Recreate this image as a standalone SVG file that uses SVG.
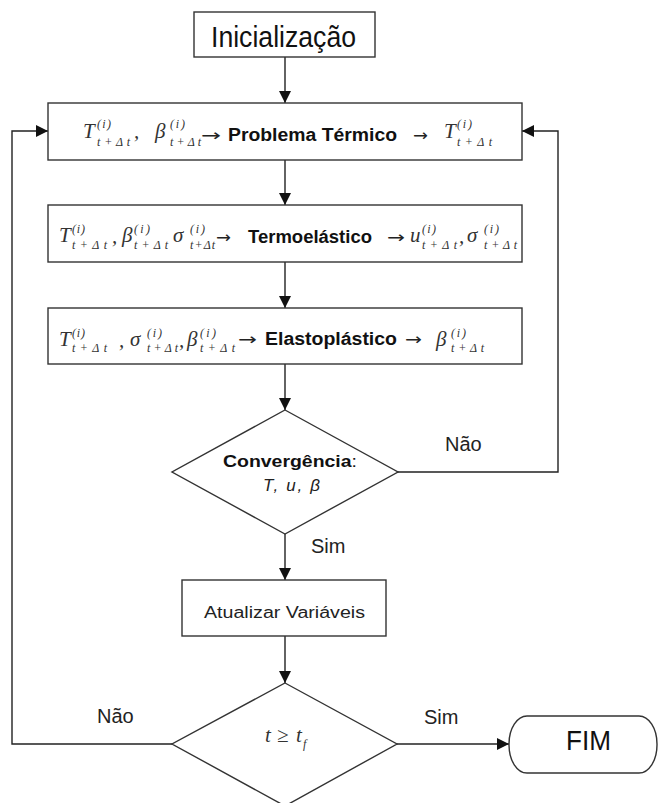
<svg xmlns="http://www.w3.org/2000/svg" width="659" height="803" viewBox="0 0 659 803">
<style>
.box{fill:#fff;stroke:#333;stroke-width:1.4}
.ln{fill:none;stroke:#222;stroke-width:1.4}
.mv{font-family:"Liberation Serif",serif;font-style:italic;font-size:21px;fill:#333}
.sp{font-family:"Liberation Serif",serif;font-style:italic;font-size:12px;fill:#333}
.sb{font-family:"Liberation Serif",serif;font-style:italic;font-size:12px;fill:#333}
.ar{font-family:"DejaVu Sans",sans-serif;font-size:16px;fill:#222}
.b{font-family:"Liberation Sans",Arial,sans-serif;font-weight:bold;font-size:18px;fill:#111}
.r{font-family:"Liberation Sans",Arial,sans-serif;font-size:20px;fill:#222}
.s{font-family:"Liberation Sans",Arial,sans-serif;font-size:16px;fill:#222}
</style>
<defs>
<marker id="ah" markerUnits="userSpaceOnUse" markerWidth="12" markerHeight="12" viewBox="0 0 10 10" refX="10" refY="5" orient="auto">
<path d="M0,0 L10,5 L0,10 z" fill="#111"/>
</marker>
</defs>
<rect width="659" height="803" fill="#fff"/>

<g id="connectors">
<line class="ln" x1="285" y1="57" x2="285" y2="103" marker-end="url(#ah)"/>
<line class="ln" x1="285" y1="160" x2="285" y2="205" marker-end="url(#ah)"/>
<line class="ln" x1="285" y1="262" x2="285" y2="308" marker-end="url(#ah)"/>
<line class="ln" x1="285" y1="364" x2="285" y2="410" marker-end="url(#ah)"/>
<line class="ln" x1="285" y1="534" x2="285" y2="580" marker-end="url(#ah)"/>
<line class="ln" x1="285" y1="636" x2="285" y2="683" marker-end="url(#ah)"/>
<line class="ln" x1="397" y1="744" x2="509" y2="744" marker-end="url(#ah)"/>
<polyline class="ln" points="396,472 558,472 558,131 522,131" marker-end="url(#ah)"/>
<polyline class="ln" points="172,744 12,744 12,131 48,131" marker-end="url(#ah)"/>
<text class="r" x="445" y="451">Não</text>
<text class="r" x="311" y="553">Sim</text>
<text class="r" x="97" y="723">Não</text>
<text class="r" x="424" y="724">Sim</text>
</g>

<g id="inicializacao">
<rect class="box" x="194" y="12" width="181" height="45"/>
<text x="211" y="47" font-family="Liberation Sans, Arial, sans-serif" font-size="29" fill="#111" textLength="145" lengthAdjust="spacingAndGlyphs">Inicialização</text>
</g>

<g id="termico">
<rect class="box" x="48" y="103" width="474" height="57"/>
<text class="mv" x="83" y="138">T</text>
<text class="sp" x="97" y="128" textLength="14">(i)</text>
<text class="sb" x="97" y="146" textLength="33">t + Δ t</text>
<text class="mv" x="134" y="138">,</text>
<text class="mv" x="155" y="138">β</text>
<text class="sp" x="170" y="128" textLength="15">(i)</text>
<text class="sb" x="170" y="146" textLength="31">t + Δ t</text>
<text class="ar" x="201" y="141" textLength="20" lengthAdjust="spacingAndGlyphs">→</text>
<text class="b" x="228" y="141" textLength="169" lengthAdjust="spacingAndGlyphs">Problema Térmico</text>
<text class="ar" x="413" y="141" textLength="15" lengthAdjust="spacingAndGlyphs">→</text>
<text class="mv" x="444" y="138">T</text>
<text class="sp" x="457" y="128" textLength="15">(i)</text>
<text class="sb" x="457" y="146" textLength="35">t + Δ t</text>
</g>

<g id="termoelastico">
<rect class="box" x="48" y="205" width="474" height="57"/>
<text class="mv" x="59" y="242">T</text>
<text class="sp" x="72" y="233" textLength="13">(i)</text>
<text class="sb" x="72" y="249" textLength="35">t + Δ t</text>
<text class="mv" x="112" y="243">,</text>
<text class="mv" x="122" y="242">β</text>
<text class="sp" x="134" y="233" textLength="16">(i)</text>
<text class="sb" x="134" y="249" textLength="34">t + Δ t</text>
<text class="mv" x="173" y="242">σ</text>
<text class="sp" x="190" y="233" textLength="15">(i)</text>
<text class="sb" x="190" y="249" textLength="25">t + Δ t</text>
<text class="ar" x="216" y="243" textLength="15" lengthAdjust="spacingAndGlyphs">→</text>
<text class="b" x="248" y="243" textLength="124" lengthAdjust="spacingAndGlyphs">Termoelástico</text>
<text class="ar" x="387" y="243" textLength="18" lengthAdjust="spacingAndGlyphs">→</text>
<text class="mv" x="410" y="242">u</text>
<text class="sp" x="422" y="233" textLength="14">(i)</text>
<text class="sb" x="422" y="249" textLength="35">t + Δ t</text>
<text class="mv" x="459" y="243">,</text>
<text class="mv" x="467" y="242">σ</text>
<text class="sp" x="484" y="233" textLength="15">(i)</text>
<text class="sb" x="484" y="249" textLength="33">t + Δ t</text>
</g>

<g id="elastoplastico">
<rect class="box" x="48" y="308" width="474" height="56"/>
<text class="mv" x="59" y="346">T</text>
<text class="sp" x="72" y="337" textLength="13">(i)</text>
<text class="sb" x="72" y="352" textLength="35">t + Δ t</text>
<text class="mv" x="119" y="347">,</text>
<text class="mv" x="130" y="346">σ</text>
<text class="sp" x="147" y="337" textLength="15">(i)</text>
<text class="sb" x="147" y="352" textLength="31">t + Δ t</text>
<text class="mv" x="179" y="347">,</text>
<text class="mv" x="187" y="346">β</text>
<text class="sp" x="200" y="337" textLength="16">(i)</text>
<text class="sb" x="200" y="352" textLength="35">t + Δ t</text>
<text class="ar" x="238" y="345" textLength="19" lengthAdjust="spacingAndGlyphs">→</text>
<text class="b" x="265" y="345" textLength="132" lengthAdjust="spacingAndGlyphs">Elastoplástico</text>
<text class="ar" x="405" y="345" textLength="17" lengthAdjust="spacingAndGlyphs">→</text>
<text class="mv" x="436" y="346">β</text>
<text class="sp" x="451" y="337" textLength="15">(i)</text>
<text class="sb" x="451" y="352" textLength="33">t + Δ t</text>
</g>

<g id="convergencia">
<polygon class="box" points="285,410 398,472 285,534 172,472"/>
<text x="223" y="467" font-family="Liberation Sans, Arial, sans-serif" font-size="16" fill="#111" textLength="134" lengthAdjust="spacingAndGlyphs"><tspan font-weight="bold">Convergência</tspan>:</text>
<text x="263" y="491" font-family="Liberation Sans, Arial, sans-serif" font-style="italic" font-size="17" fill="#222" textLength="57" lengthAdjust="spacing">T, u, β</text>
</g>

<g id="atualizar">
<rect class="box" x="182" y="580" width="204" height="56"/>
<text class="s" x="204" y="618" textLength="161" lengthAdjust="spacingAndGlyphs">Atualizar Variáveis</text>
</g>

<g id="teste-tempo">
<polygon class="box" points="285,683 397,744 285,806 172,744"/>
<text class="mv" x="265" y="742">t</text>
<text class="mv" x="277" y="742">≥</text>
<text class="mv" x="296" y="742">t</text>
<text class="sp" x="303" y="748" font-size="14">f</text>
</g>

<g id="fim">
<rect class="box" x="509" y="716" width="148" height="57" rx="18" ry="28"/>
<text x="566" y="750" font-family="Liberation Sans, Arial, sans-serif" font-size="27" fill="#111" textLength="45" lengthAdjust="spacingAndGlyphs">FIM</text>
</g>
</svg>
